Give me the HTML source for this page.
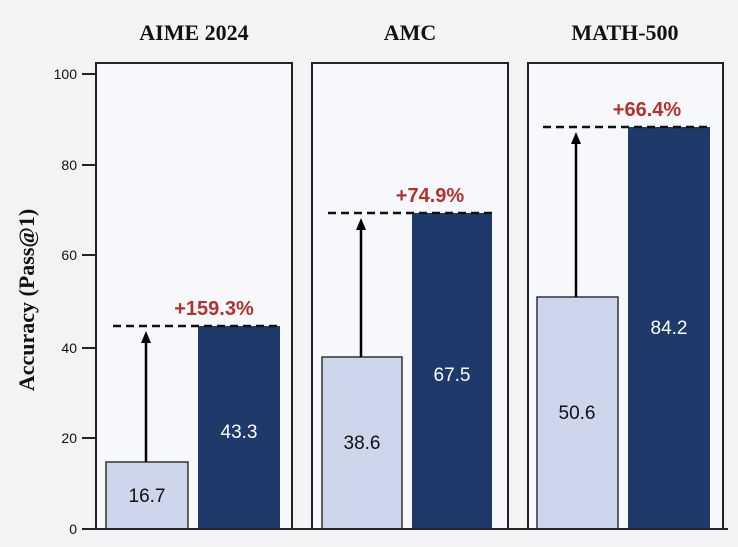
<!DOCTYPE html><html><head><style>body{margin:0;background:#f3f3f5}</style></head><body>
<svg width="738" height="542" xmlns="http://www.w3.org/2000/svg" font-family="Liberation Sans, sans-serif">
<rect width="738" height="542" fill="#f3f3f5"/>
<defs><marker id="a" markerUnits="userSpaceOnUse" markerWidth="12" markerHeight="12" refX="2" refY="6" orient="auto"><path d="M0,1 L12,6 L0,11 z" fill="#000"/></marker></defs>
<g font-family="Liberation Serif, serif" font-weight="bold" font-size="22" text-anchor="middle" fill="#111">
<text x="194" y="40">AIME 2024</text><text x="410" y="40">AMC</text><text x="625" y="40">MATH-500</text></g>
<text transform="translate(34,300) rotate(-90)" font-family="Liberation Serif, serif" font-weight="bold" font-size="22" text-anchor="middle" fill="#111">Accuracy (Pass@1)</text>
<g font-size="14" text-anchor="end" fill="#111">
<text x="77" y="79">100</text><text x="77" y="170">80</text><text x="77" y="260">60</text><text x="77" y="353">40</text><text x="77" y="443">20</text><text x="77" y="534">0</text></g>
<g stroke="#222" stroke-width="2"><line x1="82" y1="74" x2="95" y2="74"/><line x1="82" y1="165" x2="95" y2="165"/><line x1="82" y1="255" x2="95" y2="255"/><line x1="82" y1="348" x2="95" y2="348"/><line x1="82" y1="438" x2="95" y2="438"/><line x1="82" y1="529" x2="95" y2="529"/></g>
<g fill="#f7f8fb" stroke="#222" stroke-width="2">
<rect x="96" y="63" width="196" height="466"/><rect x="312" y="63" width="196" height="466"/><rect x="528" y="63" width="195" height="466"/></g>
<g stroke="#333" stroke-width="1.5" fill="#cdd6ea">
<rect x="106" y="462" width="82" height="67"/><rect x="322" y="357" width="80" height="172"/><rect x="537" y="297" width="81" height="232"/></g>
<g fill="#1e3a6b">
<rect x="198" y="326" width="82" height="203"/><rect x="412" y="213" width="80" height="316"/><rect x="628" y="127" width="82" height="402"/></g>
<line x1="82" y1="529" x2="728" y2="529" stroke="#222" stroke-width="2"/>
<g stroke="#111" stroke-width="2.5" stroke-dasharray="8,5">
<line x1="113" y1="326" x2="280" y2="326"/><line x1="328" y1="213" x2="492" y2="213"/><line x1="543" y1="127" x2="710" y2="127"/></g>
<g stroke="#000" stroke-width="2.5" marker-end="url(#a)">
<line x1="146" y1="462" x2="146" y2="341"/><line x1="361" y1="357" x2="361" y2="228"/><line x1="576" y1="297" x2="576" y2="142"/></g>
<g font-weight="bold" font-size="20" fill="#b5312c" text-anchor="middle">
<text x="214" y="315">+159.3%</text><text x="430" y="202">+74.9%</text><text x="647" y="116">+66.4%</text></g>
<g font-size="19" text-anchor="middle">
<text x="147" y="502" fill="#111">16.7</text><text x="239" y="438" fill="#fff">43.3</text>
<text x="362" y="449" fill="#111">38.6</text><text x="452" y="381" fill="#fff">67.5</text>
<text x="577" y="419" fill="#111">50.6</text><text x="669" y="334" fill="#fff">84.2</text></g>
</svg></body></html>
